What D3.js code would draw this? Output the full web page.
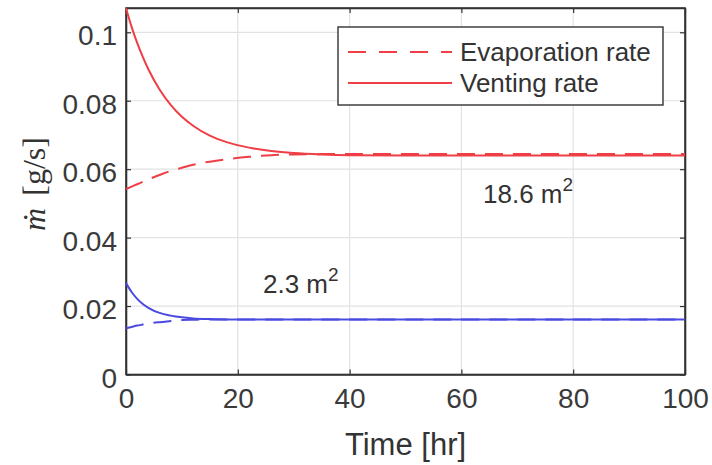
<!DOCTYPE html>
<html>
<head>
<meta charset="utf-8">
<script src="https://cdn.jsdelivr.net/npm/d3@7"></script>
<style>
  body { margin: 0; background: #fff; }
  svg { display: block; font-family: "Liberation Sans", Arial, sans-serif; }
</style>
</head>
<body>
<svg id="chart" width="712" height="465"></svg>
<script>
// time points [hr]
const time = [0, 1, 2, 3, 4, 6, 8, 10, 12, 15, 18, 22, 26, 30, 35, 40, 50, 60, 70, 80, 90, 100];
// 18.6 m2 case
const ventRed = [0.107, 0.1016, 0.0969, 0.0928, 0.0892, 0.0833, 0.0788, 0.0753, 0.0727, 0.0698, 0.0679, 0.0663, 0.0653, 0.0647, 0.0643, 0.0641, 0.064, 0.064, 0.064, 0.064, 0.064, 0.064];
const evapRed = [0.0542, 0.0549, 0.0556, 0.0563, 0.057, 0.0583, 0.0595, 0.0604, 0.0613, 0.0622, 0.0629, 0.0636, 0.0641, 0.0643, 0.0644, 0.0644, 0.0644, 0.0644, 0.0644, 0.0644, 0.0644, 0.0644];
// 2.3 m2 case
const ventBlue = [0.0267, 0.0241, 0.0221, 0.0206, 0.0195, 0.018, 0.0172, 0.0167, 0.0164, 0.0162, 0.0161, 0.0161, 0.0161, 0.0161, 0.0161, 0.0161, 0.0161, 0.0161, 0.0161, 0.0161, 0.0161, 0.0161];
const evapBlue = [0.0135, 0.0139, 0.0143, 0.0146, 0.0149, 0.0153, 0.0156, 0.0159, 0.016, 0.0161, 0.0161, 0.0161, 0.0161, 0.0161, 0.0161, 0.0161, 0.0161, 0.0161, 0.0161, 0.0161, 0.0161, 0.0161];
const xTicks = [0, 20, 40, 60, 80, 100];
const yTicks = [0, 0.02, 0.04, 0.06, 0.08, 0.1];
const legendLabels = ["Evaporation rate", "Venting rate"];

const svg = d3.select("#chart");
const pLeft = 126, pRight = 685, pTop = 8, pBottom = 374.5;

const x = d3.scaleLinear().domain([0, 100]).range([pLeft, pRight]);
const y = d3.scaleLinear().domain([0, 0.1071]).range([pBottom, pTop]);

// grid
svg.append("g").selectAll("line")
  .data(xTicks.slice(1, -1))
  .enter().append("line")
  .attr("x1", d => x(d)).attr("x2", d => x(d))
  .attr("y1", pTop).attr("y2", pBottom)
  .attr("stroke", "#e2e2e2").attr("stroke-width", 1.2);
svg.append("g").selectAll("line")
  .data(yTicks.slice(1))
  .enter().append("line")
  .attr("x1", pLeft).attr("x2", pRight)
  .attr("y1", d => y(d)).attr("y2", d => y(d))
  .attr("stroke", "#e2e2e2").attr("stroke-width", 1.2);

// axes (ticks inward, on all four sides)
const tl = 5;
const axB = svg.append("g").attr("transform", `translate(0,${pBottom})`)
  .call(d3.axisBottom(x).tickValues(xTicks).tickSizeInner(-tl).tickSizeOuter(0).tickPadding(14));
const axT = svg.append("g").attr("transform", `translate(0,${pTop})`)
  .call(d3.axisTop(x).tickValues(xTicks).tickSizeInner(-tl).tickSizeOuter(0).tickFormat(""));
const axL = svg.append("g").attr("transform", `translate(${pLeft},0)`)
  .call(d3.axisLeft(y).tickValues(yTicks).tickSizeInner(-tl).tickSizeOuter(0).tickPadding(9).tickFormat(d => d === 0 ? "0" : String(+d.toFixed(2))));
const axR = svg.append("g").attr("transform", `translate(${pRight},0)`)
  .call(d3.axisRight(y).tickValues(yTicks).tickSizeInner(-tl).tickSizeOuter(0).tickFormat(""));
[axB, axT, axL, axR].forEach(a => {
  a.attr("font-family", null).attr("font-size", 28);
  a.select(".domain").attr("stroke", "#333").attr("stroke-width", 1.6);
  a.selectAll(".tick line").attr("stroke", "#333").attr("stroke-width", 1.2);
  a.selectAll("text").attr("fill", "#3a3a3a");
});
axL.selectAll("text").attr("dy", "0.45em");
svg.append("rect").attr("x", pLeft).attr("y", pTop).attr("width", pRight - pLeft).attr("height", pBottom - pTop)
  .attr("fill", "none").attr("stroke", "#333").attr("stroke-width", 1.6);

// lines
const line = d3.line().x((d, i) => x(time[i])).y(d => y(d)).curve(d3.curveMonotoneX);
const red = "#ef3e46", blue = "#4a4ae0";
const series = [
  { v: ventBlue, c: blue, dash: null },
  { v: evapBlue, c: blue, dash: "18,10" },
  { v: ventRed, c: red, dash: null },
  { v: evapRed, c: red, dash: "18,10" }
];
svg.append("g").selectAll("path")
  .data(series)
  .enter().append("path")
  .attr("d", d => line(d.v))
  .attr("fill", "none")
  .attr("stroke", d => d.c)
  .attr("stroke-width", 2)
  .attr("stroke-dasharray", d => d.dash);

// annotations
const ann = svg.append("g").attr("font-size", 26).attr("fill", "#333");
const a1 = ann.append("text").attr("x", 483).attr("y", 203);
a1.append("tspan").text("18.6 m");
a1.append("tspan").attr("font-size", 19).attr("dy", -12).text("2");
const a2 = ann.append("text").attr("x", 263).attr("y", 293);
a2.append("tspan").text("2.3 m");
a2.append("tspan").attr("font-size", 19).attr("dy", -12).text("2");

// axis labels
svg.append("text").attr("x", (pLeft + pRight) / 2).attr("y", 455)
  .attr("text-anchor", "middle").attr("font-size", 31).attr("fill", "#333").text("Time [hr]");
const yl = svg.append("text").attr("transform", "translate(45,184) rotate(-90)")
  .attr("text-anchor", "middle").attr("font-size", 32).attr("fill", "#333")
  .style("font-family", "'Liberation Serif', 'DejaVu Serif', serif");
yl.append("tspan").attr("font-style", "italic").text("ṁ");
yl.append("tspan").attr("dx", 12).text("[g/s]");

// legend
const lg = svg.append("g");
lg.append("rect").attr("x", 338).attr("y", 27).attr("width", 325).attr("height", 78)
  .attr("fill", "#fff").attr("stroke", "#333").attr("stroke-width", 1.4);
const lgRows = [{ dash: "18,13", y: 52 }, { dash: null, y: 83 }];
lgRows.forEach((r, i) => {
  lg.append("line").attr("x1", 348).attr("x2", 452).attr("y1", r.y).attr("y2", r.y)
    .attr("stroke", red).attr("stroke-width", 2).attr("stroke-dasharray", r.dash);
  lg.append("text").attr("x", 460).attr("y", r.y).attr("dy", "0.35em")
    .attr("font-size", 26).attr("fill", "#333").text(legendLabels[i]);
});
</script>
</body>
</html>
